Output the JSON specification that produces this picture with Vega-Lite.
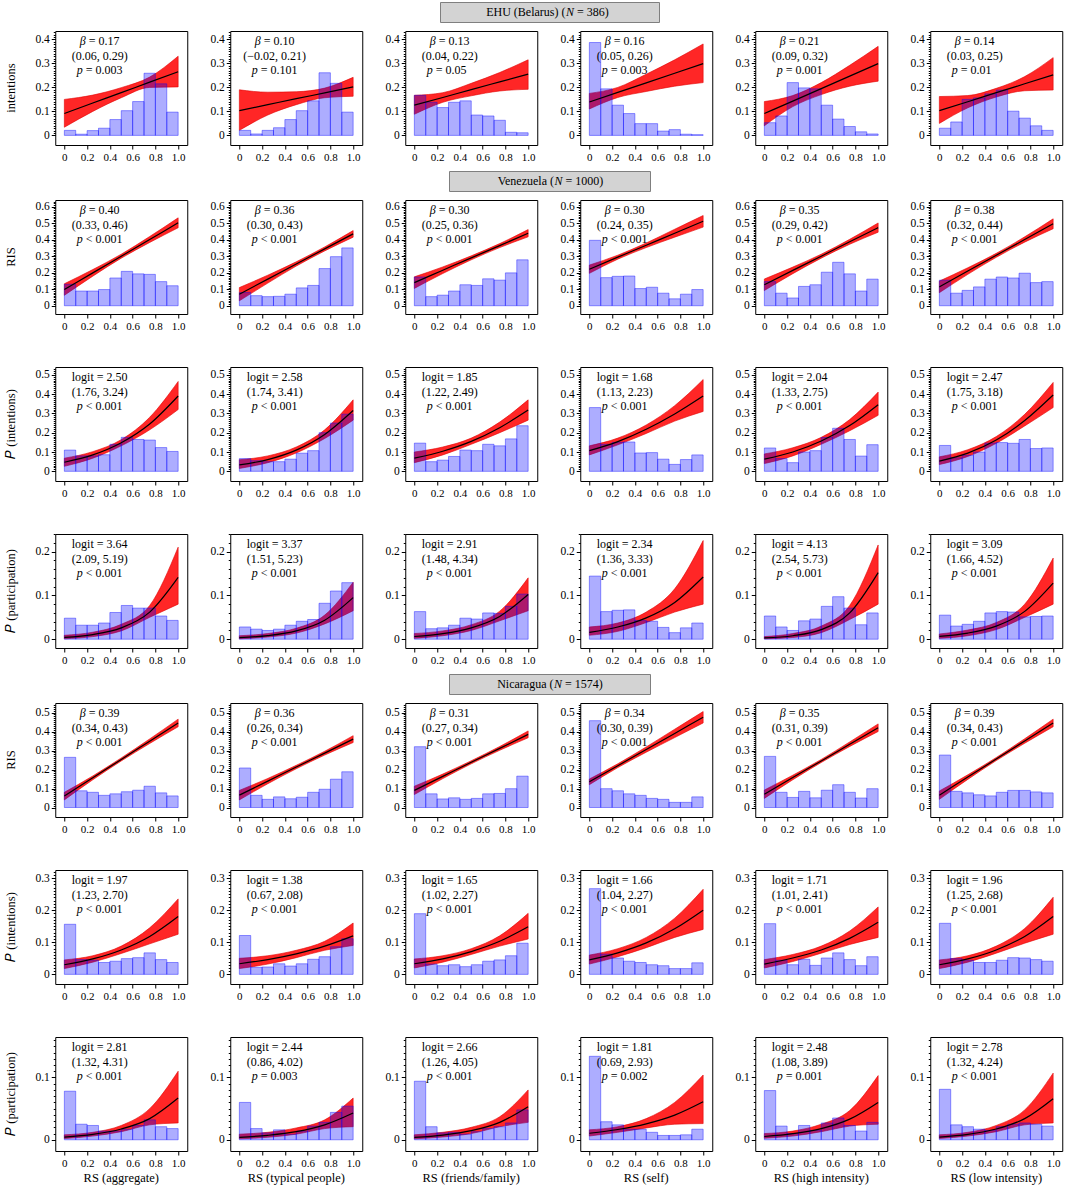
{
"$schema": "https://vega.github.io/schema/vega-lite/v6.json",
"background": "white",
"padding": {"left": 4, "top": 1, "right": 2, "bottom": 2},
"config": {
  "font": "Liberation Serif",
  "view": {"stroke": "black", "strokeWidth": 1},
  "axis": {"labelFont": "Liberation Serif", "labelFontSize": 11.5, "labelColor": "black", "tickColor": "black", "domain": false, "grid": false, "tickSize": 4, "labelPadding": 2, "labelOverlap": false},
  "axisX": {"labelOverlap": false, "labelFlush": false, "labelFontSize": 11},
  "header": {"labelFont": "Liberation Serif", "labelFontSize": 12.5, "labelColor": "black"},
  "text": {"font": "Liberation Serif", "fontSize": 12, "color": "black"}
},
"spacing": 7,
"center": true,
"vconcat": [
{"hconcat": [
 {"width": 219, "height": 20, "view": {"fill": "#d3d3d3", "stroke": "#7f7f7f"},
  "data": {"values": [{"a": "EHU (Belarus) (", "n": "N", "b": "= 386)"}]},
  "layer": [
   {"mark": {"type": "text", "align": "right", "dx": 16}, "encoding": {"text": {"field": "a"}}},
   {"mark": {"type": "text", "align": "left", "dx": 16.5, "fontStyle": "italic"}, "encoding": {"text": {"field": "n"}}},
   {"mark": {"type": "text", "align": "left", "dx": 27.5}, "encoding": {"text": {"field": "b"}}}
  ]},
 {"width": 1, "height": 20, "view": {"stroke": null}, "data": {"values": [{"t": ""}]}, "mark": {"type": "text"}, "encoding": {"text": {"field": "t"}}}
 ], "spacing": 17},
{
 "data": {"values": [
  {"c":"RS (aggregate)","ylab":"intentions","t1i":"β","t1":"= 0.17","t2":"(0.06, 0.29)","t3i":"p","t3":"= 0.003","h":[0.021,0.005,0.02,0.03,0.066,0.103,0.141,0.259,0.215,0.097],"hx0":[0,0.1,0.2,0.3,0.4,0.5,0.6,0.7,0.8,0.9],"hx1":[0.1,0.2,0.3,0.4,0.5,0.6,0.7,0.8,0.9,1],"bx":[0,0.25,0.5,0.75,1],"lo":[0.034,0.1,0.157,0.2,0.202],"mid":[0.091,0.135,0.178,0.222,0.265],"hi":[0.15,0.168,0.199,0.243,0.33]},
  {"c":"RS (typical people)","ylab":"intentions","t1i":"β","t1":"= 0.10","t2":"(−0.02, 0.21)","t3i":"p","t3":"= 0.101","h":[0.021,0.006,0.021,0.032,0.066,0.103,0.144,0.261,0.217,0.097],"hx0":[0,0.1,0.2,0.3,0.4,0.5,0.6,0.7,0.8,0.9],"hx1":[0.1,0.2,0.3,0.4,0.5,0.6,0.7,0.8,0.9,1],"bx":[0,0.25,0.5,0.75,1],"lo":[0.021,0.085,0.128,0.157,0.163],"mid":[0.103,0.128,0.153,0.177,0.202],"hi":[0.19,0.18,0.182,0.197,0.242]},
  {"c":"RS (friends/family)","ylab":"intentions","t1i":"β","t1":"= 0.13","t2":"(0.04, 0.22)","t3i":"p","t3":"= 0.05","h":[0.167,0.138,0.116,0.138,0.144,0.085,0.081,0.063,0.013,0.011],"hx0":[0,0.1,0.2,0.3,0.4,0.5,0.6,0.7,0.8,0.9],"hx1":[0.1,0.2,0.3,0.4,0.5,0.6,0.7,0.8,0.9,1],"bx":[0,0.25,0.5,0.75,1],"lo":[0.088,0.138,0.165,0.185,0.192],"mid":[0.126,0.158,0.191,0.223,0.255],"hi":[0.167,0.178,0.217,0.262,0.315]},
  {"c":"RS (self)","ylab":"intentions","t1i":"β","t1":"= 0.16","t2":"(0.05, 0.26)","t3i":"p","t3":"= 0.003","h":[0.387,0.194,0.126,0.091,0.049,0.049,0.018,0.024,0.005,0.003],"hx0":[0,0.1,0.2,0.3,0.4,0.5,0.6,0.7,0.8,0.9],"hx1":[0.1,0.2,0.3,0.4,0.5,0.6,0.7,0.8,0.9,1],"bx":[0,0.25,0.5,0.75,1],"lo":[0.11,0.158,0.183,0.205,0.22],"mid":[0.139,0.179,0.219,0.259,0.299],"hi":[0.175,0.2,0.255,0.315,0.381]},
  {"c":"RS (high intensity)","ylab":"intentions","t1i":"β","t1":"= 0.21","t2":"(0.09, 0.32)","t3i":"p","t3":"= 0.001","h":[0.053,0.081,0.22,0.198,0.194,0.126,0.068,0.037,0.015,0.006],"hx0":[0,0.1,0.2,0.3,0.4,0.5,0.6,0.7,0.8,0.9],"hx1":[0.1,0.2,0.3,0.4,0.5,0.6,0.7,0.8,0.9,1],"bx":[0,0.25,0.5,0.75,1],"lo":[0.04,0.12,0.17,0.205,0.226],"mid":[0.091,0.143,0.195,0.247,0.299],"hi":[0.141,0.166,0.22,0.292,0.371]},
  {"c":"RS (low intensity)","ylab":"intentions","t1i":"β","t1":"= 0.14","t2":"(0.03, 0.25)","t3i":"p","t3":"= 0.01","h":[0.03,0.056,0.15,0.156,0.173,0.189,0.101,0.072,0.04,0.021],"hx0":[0,0.1,0.2,0.3,0.4,0.5,0.6,0.7,0.8,0.9],"hx1":[0.1,0.2,0.3,0.4,0.5,0.6,0.7,0.8,0.9,1],"bx":[0,0.25,0.5,0.75,1],"lo":[0.05,0.115,0.16,0.186,0.189],"mid":[0.103,0.14,0.178,0.215,0.252],"hi":[0.162,0.166,0.196,0.245,0.324]}
 ]},
 "transform": [{"flatten": ["h","hx0","hx1","bx","lo","mid","hi"]}],
 "facet": {
  "column": {"field": "c", "type": "nominal", "sort": ["RS (aggregate)","RS (typical people)","RS (friends/family)","RS (self)","RS (high intensity)","RS (low intensity)"], "header": null},
  "row": {"field": "ylab", "type": "nominal", "header": {"title": null, "labelAngle": -90, "labelOrient": "left", "labelPadding": 11}}
 },
 "spacing": {"row": 0, "column": 21},
 "resolve": {"axis": {"y": "independent", "x": "independent"}},
 "spec": {
  "width": 132, "height": 114,
  "resolve": {"axis": {"y": "independent", "x": "independent"}},
  "layer": [
   {"mark": {"type": "area", "color": "#ff0000", "fillOpacity": 0.85, "stroke": "#e00000", "strokeWidth": 0.6, "interpolate": "monotone"},
    "encoding": {
     "x": {"field": "bx", "type": "quantitative", "title": null, "scale": {"domain": [-0.08, 1.08], "nice": false, "zero": false}, "axis": {"orient": "bottom", "values": [0,0.4,0.8], "labelExpr": "datum.value == 0 ? '0' : format(datum.value, '.1f')", "title": null}},
     "y": {"field": "lo", "type": "quantitative", "title": null, "scale": {"domain": [-0.04, 0.435], "nice": false, "zero": false}, "axis": {"orient": "left", "values": [0,0.1,0.2,0.3,0.4], "labelExpr": "datum.value == 0 ? '0' : format(datum.value, '.1f')", "title": null}},
     "y2": {"field": "hi"}
    }},
   {"mark": {"type": "rect", "fill": "#0000ff", "fillOpacity": 0.32, "stroke": "#0000ff", "strokeOpacity": 0.4, "strokeWidth": 1},
    "encoding": {"x": {"field": "hx0", "type": "quantitative", "title": null, "axis": null}, "x2": {"field": "hx1"}, "y": {"field": "h", "type": "quantitative", "title": null, "axis": null}, "y2": {"datum": 0}}},
   {"mark": {"type": "line", "color": "black", "strokeWidth": 1.2, "interpolate": "monotone"},
    "encoding": {"x": {"field": "bx", "type": "quantitative", "title": null, "axis": {"orient": "bottom", "values": [0.2,0.6,1], "labelExpr": "format(datum.value, '.1f')", "title": null}}, "y": {"field": "mid", "type": "quantitative", "title": null, "axis": {"orient": "left", "labels": false, "tickSize": 2, "title": null, "values": [0,0.01,0.02,0.03,0.04,0.05,0.06,0.07,0.08,0.09,0.1,0.11,0.12,0.13,0.14,0.15,0.16,0.17,0.18,0.19,0.2,0.21,0.22,0.23,0.24,0.25,0.26,0.27,0.28,0.29,0.3,0.31,0.32,0.33,0.34,0.35,0.36,0.37,0.38,0.39,0.4,0.41,0.42,0.43]}}}},
   {"mark": {"type": "text", "align": "right", "baseline": "middle", "fontStyle": "italic", "dx": -14, "dy": 10}, "encoding": {"x": {"datum": 0.31, "axis": null}, "y": {"datum": 0.435, "axis": null}, "text": {"condition": {"test": "datum.hx0 === 0", "field": "t1i"}, "value": ""}}},
   {"mark": {"type": "text", "align": "left", "baseline": "middle", "dx": -11, "dy": 10}, "encoding": {"x": {"datum": 0.31, "axis": null}, "y": {"datum": 0.435, "axis": null}, "text": {"condition": {"test": "datum.hx0 === 0", "field": "t1"}, "value": ""}}},
   {"mark": {"type": "text", "align": "center", "baseline": "middle", "dy": 24.5}, "encoding": {"x": {"datum": 0.31, "axis": null}, "y": {"datum": 0.435, "axis": null}, "text": {"condition": {"test": "datum.hx0 === 0", "field": "t2"}, "value": ""}}},
   {"mark": {"type": "text", "align": "right", "baseline": "middle", "fontStyle": "italic", "dx": -17, "dy": 39}, "encoding": {"x": {"datum": 0.31, "axis": null}, "y": {"datum": 0.435, "axis": null}, "text": {"condition": {"test": "datum.hx0 === 0", "field": "t3i"}, "value": ""}}},
   {"mark": {"type": "text", "align": "left", "baseline": "middle", "dx": -14, "dy": 39}, "encoding": {"x": {"datum": 0.31, "axis": null}, "y": {"datum": 0.435, "axis": null}, "text": {"condition": {"test": "datum.hx0 === 0", "field": "t3"}, "value": ""}}}
  ]
 }
},
{"hconcat": [
 {"width": 201, "height": 20, "view": {"fill": "#d3d3d3", "stroke": "#7f7f7f"},
  "data": {"values": [{"a": "Venezuela (", "n": "N", "b": "= 1000)"}]},
  "layer": [
   {"mark": {"type": "text", "align": "right", "dx": 4.5}, "encoding": {"text": {"field": "a"}}},
   {"mark": {"type": "text", "align": "left", "dx": 5, "fontStyle": "italic"}, "encoding": {"text": {"field": "n"}}},
   {"mark": {"type": "text", "align": "left", "dx": 16}, "encoding": {"text": {"field": "b"}}}
  ]},
 {"width": 1, "height": 20, "view": {"stroke": null}, "data": {"values": [{"t": ""}]}, "mark": {"type": "text"}, "encoding": {"text": {"field": "t"}}}
 ], "spacing": 17},
{
 "data": {"values": [
  {"c":"RS (aggregate)","ylab":"RIS","t1i":"β","t1":"= 0.40","t2":"(0.33, 0.46)","t3i":"p","t3":"< 0.001","h":[0.13,0.089,0.089,0.098,0.168,0.208,0.193,0.19,0.146,0.121],"hx0":[0,0.1,0.2,0.3,0.4,0.5,0.6,0.7,0.8,0.9],"hx1":[0.1,0.2,0.3,0.4,0.5,0.6,0.7,0.8,0.9,1],"bx":[0,0.25,0.5,0.75,1],"lo":[0.063,0.179,0.288,0.383,0.472],"mid":[0.098,0.199,0.3,0.401,0.502],"hi":[0.133,0.219,0.312,0.419,0.532]},
  {"c":"RS (typical people)","ylab":"RIS","t1i":"β","t1":"= 0.36","t2":"(0.30, 0.43)","t3i":"p","t3":"< 0.001","h":[0.08,0.061,0.055,0.057,0.07,0.108,0.123,0.225,0.297,0.35],"hx0":[0,0.1,0.2,0.3,0.4,0.5,0.6,0.7,0.8,0.9],"hx1":[0.1,0.2,0.3,0.4,0.5,0.6,0.7,0.8,0.9,1],"bx":[0,0.25,0.5,0.75,1],"lo":[0.03,0.137,0.24,0.332,0.415],"mid":[0.07,0.161,0.253,0.344,0.435],"hi":[0.11,0.185,0.266,0.356,0.455]},
  {"c":"RS (friends/family)","ylab":"RIS","t1i":"β","t1":"= 0.30","t2":"(0.25, 0.36)","t3i":"p","t3":"< 0.001","h":[0.174,0.055,0.064,0.089,0.127,0.123,0.163,0.155,0.199,0.278],"hx0":[0,0.1,0.2,0.3,0.4,0.5,0.6,0.7,0.8,0.9],"hx1":[0.1,0.2,0.3,0.4,0.5,0.6,0.7,0.8,0.9,1],"bx":[0,0.25,0.5,0.75,1],"lo":[0.105,0.195,0.278,0.352,0.417],"mid":[0.14,0.215,0.29,0.364,0.439],"hi":[0.175,0.235,0.302,0.376,0.461]},
  {"c":"RS (self)","ylab":"RIS","t1i":"β","t1":"= 0.30","t2":"(0.24, 0.35)","t3i":"p","t3":"< 0.001","h":[0.396,0.17,0.178,0.18,0.104,0.112,0.076,0.042,0.07,0.098],"hx0":[0,0.1,0.2,0.3,0.4,0.5,0.6,0.7,0.8,0.9],"hx1":[0.1,0.2,0.3,0.4,0.5,0.6,0.7,0.8,0.9,1],"bx":[0,0.25,0.5,0.75,1],"lo":[0.196,0.282,0.352,0.415,0.476],"mid":[0.221,0.294,0.366,0.439,0.511],"hi":[0.246,0.306,0.38,0.463,0.546]},
  {"c":"RS (high intensity)","ylab":"RIS","t1i":"β","t1":"= 0.35","t2":"(0.29, 0.42)","t3i":"p","t3":"< 0.001","h":[0.146,0.076,0.047,0.117,0.127,0.203,0.263,0.193,0.089,0.161],"hx0":[0,0.1,0.2,0.3,0.4,0.5,0.6,0.7,0.8,0.9],"hx1":[0.1,0.2,0.3,0.4,0.5,0.6,0.7,0.8,0.9,1],"bx":[0,0.25,0.5,0.75,1],"lo":[0.092,0.194,0.288,0.372,0.445],"mid":[0.127,0.214,0.3,0.387,0.473],"hi":[0.162,0.234,0.312,0.402,0.501]},
  {"c":"RS (low intensity)","ylab":"RIS","t1i":"β","t1":"= 0.38","t2":"(0.32, 0.44)","t3i":"p","t3":"< 0.001","h":[0.155,0.076,0.093,0.114,0.161,0.174,0.168,0.197,0.14,0.146],"hx0":[0,0.1,0.2,0.3,0.4,0.5,0.6,0.7,0.8,0.9],"hx1":[0.1,0.2,0.3,0.4,0.5,0.6,0.7,0.8,0.9,1],"bx":[0,0.25,0.5,0.75,1],"lo":[0.079,0.19,0.293,0.385,0.466],"mid":[0.114,0.21,0.305,0.401,0.496],"hi":[0.149,0.23,0.317,0.417,0.526]}
 ]},
 "transform": [{"flatten": ["h","hx0","hx1","bx","lo","mid","hi"]}],
 "facet": {
  "column": {"field": "c", "type": "nominal", "sort": ["RS (aggregate)","RS (typical people)","RS (friends/family)","RS (self)","RS (high intensity)","RS (low intensity)"], "header": null},
  "row": {"field": "ylab", "type": "nominal", "header": {"title": null, "labelAngle": -90, "labelOrient": "left", "labelPadding": 11}}
 },
 "spacing": {"row": 0, "column": 21},
 "resolve": {"axis": {"y": "independent", "x": "independent"}},
 "spec": {
  "width": 132, "height": 114,
  "resolve": {"axis": {"y": "independent", "x": "independent"}},
  "layer": [
   {"mark": {"type": "area", "color": "#ff0000", "fillOpacity": 0.85, "stroke": "#e00000", "strokeWidth": 0.6, "interpolate": "monotone"},
    "encoding": {
     "x": {"field": "bx", "type": "quantitative", "title": null, "scale": {"domain": [-0.08, 1.08], "nice": false, "zero": false}, "axis": {"orient": "bottom", "values": [0,0.4,0.8], "labelExpr": "datum.value == 0 ? '0' : format(datum.value, '.1f')", "title": null}},
     "y": {"field": "lo", "type": "quantitative", "title": null, "scale": {"domain": [-0.05, 0.64], "nice": false, "zero": false}, "axis": {"orient": "left", "values": [0,0.1,0.2,0.3,0.4,0.5,0.6], "labelExpr": "datum.value == 0 ? '0' : format(datum.value, '.1f')", "title": null}},
     "y2": {"field": "hi"}
    }},
   {"mark": {"type": "rect", "fill": "#0000ff", "fillOpacity": 0.32, "stroke": "#0000ff", "strokeOpacity": 0.4, "strokeWidth": 1},
    "encoding": {"x": {"field": "hx0", "type": "quantitative", "title": null, "axis": null}, "x2": {"field": "hx1"}, "y": {"field": "h", "type": "quantitative", "title": null, "axis": null}, "y2": {"datum": 0}}},
   {"mark": {"type": "line", "color": "black", "strokeWidth": 1.2, "interpolate": "monotone"},
    "encoding": {"x": {"field": "bx", "type": "quantitative", "title": null, "axis": {"orient": "bottom", "values": [0.2,0.6,1], "labelExpr": "format(datum.value, '.1f')", "title": null}}, "y": {"field": "mid", "type": "quantitative", "title": null, "axis": {"orient": "left", "labels": false, "tickSize": 2, "title": null, "values": [0,0.01,0.02,0.03,0.04,0.05,0.06,0.07,0.08,0.09,0.1,0.11,0.12,0.13,0.14,0.15,0.16,0.17,0.18,0.19,0.2,0.21,0.22,0.23,0.24,0.25,0.26,0.27,0.28,0.29,0.3,0.31,0.32,0.33,0.34,0.35,0.36,0.37,0.38,0.39,0.4,0.41,0.42,0.43,0.44,0.45,0.46,0.47,0.48,0.49,0.5,0.51,0.52,0.53,0.54,0.55,0.56,0.57,0.58,0.59,0.6,0.61,0.62,0.63]}}}},
   {"mark": {"type": "text", "align": "right", "baseline": "middle", "fontStyle": "italic", "dx": -14, "dy": 10}, "encoding": {"x": {"datum": 0.31, "axis": null}, "y": {"datum": 0.64, "axis": null}, "text": {"condition": {"test": "datum.hx0 === 0", "field": "t1i"}, "value": ""}}},
   {"mark": {"type": "text", "align": "left", "baseline": "middle", "dx": -11, "dy": 10}, "encoding": {"x": {"datum": 0.31, "axis": null}, "y": {"datum": 0.64, "axis": null}, "text": {"condition": {"test": "datum.hx0 === 0", "field": "t1"}, "value": ""}}},
   {"mark": {"type": "text", "align": "center", "baseline": "middle", "dy": 24.5}, "encoding": {"x": {"datum": 0.31, "axis": null}, "y": {"datum": 0.64, "axis": null}, "text": {"condition": {"test": "datum.hx0 === 0", "field": "t2"}, "value": ""}}},
   {"mark": {"type": "text", "align": "right", "baseline": "middle", "fontStyle": "italic", "dx": -17, "dy": 39}, "encoding": {"x": {"datum": 0.31, "axis": null}, "y": {"datum": 0.64, "axis": null}, "text": {"condition": {"test": "datum.hx0 === 0", "field": "t3i"}, "value": ""}}},
   {"mark": {"type": "text", "align": "left", "baseline": "middle", "dx": -14, "dy": 39}, "encoding": {"x": {"datum": 0.31, "axis": null}, "y": {"datum": 0.64, "axis": null}, "text": {"condition": {"test": "datum.hx0 === 0", "field": "t3"}, "value": ""}}}
  ]
 }
},
{"width": 10, "height": 20, "view": {"stroke": null}, "data": {"values": [{"t": ""}]}, "mark": {"type": "text"}, "encoding": {"text": {"field": "t"}}},
{
 "data": {"values": [
  {"c":"RS (aggregate)","ylab":"𝑃 (intentions)","t1":"logit = 2.50","t2":"(1.76, 3.24)","t3i":"p","t3":"< 0.001","h":[0.11,0.08,0.08,0.086,0.14,0.176,0.165,0.162,0.123,0.103],"hx0":[0,0.1,0.2,0.3,0.4,0.5,0.6,0.7,0.8,0.9],"hx1":[0.1,0.2,0.3,0.4,0.5,0.6,0.7,0.8,0.9,1],"bx":[0,0.25,0.5,0.75,1],"lo":[0.026,0.068,0.132,0.215,0.32],"mid":[0.047,0.085,0.148,0.245,0.39],"hi":[0.068,0.102,0.164,0.28,0.465]},
  {"c":"RS (typical people)","ylab":"𝑃 (intentions)","t1":"logit = 2.58","t2":"(1.74, 3.41)","t3i":"p","t3":"< 0.001","h":[0.066,0.055,0.05,0.05,0.063,0.094,0.107,0.2,0.25,0.296],"hx0":[0,0.1,0.2,0.3,0.4,0.5,0.6,0.7,0.8,0.9],"hx1":[0.1,0.2,0.3,0.4,0.5,0.6,0.7,0.8,0.9,1],"bx":[0,0.25,0.5,0.75,1],"lo":[0.015,0.045,0.095,0.17,0.265],"mid":[0.033,0.061,0.11,0.191,0.315],"hi":[0.06,0.08,0.126,0.215,0.37]},
  {"c":"RS (friends/family)","ylab":"𝑃 (intentions)","t1":"logit = 1.85","t2":"(1.22, 2.49)","t3i":"p","t3":"< 0.001","h":[0.146,0.05,0.058,0.077,0.11,0.107,0.14,0.132,0.168,0.236],"hx0":[0,0.1,0.2,0.3,0.4,0.5,0.6,0.7,0.8,0.9],"hx1":[0.1,0.2,0.3,0.4,0.5,0.6,0.7,0.8,0.9,1],"bx":[0,0.25,0.5,0.75,1],"lo":[0.045,0.085,0.14,0.2,0.265],"mid":[0.068,0.104,0.155,0.226,0.317],"hi":[0.1,0.126,0.172,0.255,0.37]},
  {"c":"RS (self)","ylab":"𝑃 (intentions)","t1":"logit = 1.68","t2":"(1.13, 2.23)","t3i":"p","t3":"< 0.001","h":[0.33,0.14,0.15,0.152,0.095,0.097,0.063,0.036,0.061,0.085],"hx0":[0,0.1,0.2,0.3,0.4,0.5,0.6,0.7,0.8,0.9],"hx1":[0.1,0.2,0.3,0.4,0.5,0.6,0.7,0.8,0.9,1],"bx":[0,0.25,0.5,0.75,1],"lo":[0.085,0.137,0.196,0.26,0.31],"mid":[0.107,0.154,0.218,0.297,0.39],"hi":[0.132,0.172,0.24,0.34,0.475]},
  {"c":"RS (high intensity)","ylab":"𝑃 (intentions)","t1":"logit = 2.04","t2":"(1.33, 2.75)","t3i":"p","t3":"< 0.001","h":[0.121,0.066,0.045,0.1,0.107,0.175,0.223,0.165,0.079,0.138],"hx0":[0,0.1,0.2,0.3,0.4,0.5,0.6,0.7,0.8,0.9],"hx1":[0.1,0.2,0.3,0.4,0.5,0.6,0.7,0.8,0.9,1],"bx":[0,0.25,0.5,0.75,1],"lo":[0.04,0.08,0.14,0.21,0.29],"mid":[0.063,0.1,0.157,0.237,0.345],"hi":[0.09,0.122,0.176,0.268,0.41]},
  {"c":"RS (low intensity)","ylab":"𝑃 (intentions)","t1":"logit = 2.47","t2":"(1.75, 3.18)","t3i":"p","t3":"< 0.001","h":[0.134,0.07,0.083,0.1,0.146,0.149,0.145,0.165,0.118,0.121],"hx0":[0,0.1,0.2,0.3,0.4,0.5,0.6,0.7,0.8,0.9],"hx1":[0.1,0.2,0.3,0.4,0.5,0.6,0.7,0.8,0.9,1],"bx":[0,0.25,0.5,0.75,1],"lo":[0.035,0.077,0.145,0.235,0.33],"mid":[0.053,0.094,0.162,0.263,0.395],"hi":[0.075,0.112,0.18,0.295,0.46]}
 ]},
 "transform": [{"flatten": ["h","hx0","hx1","bx","lo","mid","hi"]}],
 "facet": {
  "column": {"field": "c", "type": "nominal", "sort": ["RS (aggregate)","RS (typical people)","RS (friends/family)","RS (self)","RS (high intensity)","RS (low intensity)"], "header": null},
  "row": {"field": "ylab", "type": "nominal", "header": {"title": null, "labelAngle": -90, "labelOrient": "left", "labelPadding": 11}}
 },
 "spacing": {"row": 0, "column": 21},
 "resolve": {"axis": {"y": "independent", "x": "independent"}},
 "spec": {
  "width": 132, "height": 114,
  "resolve": {"axis": {"y": "independent", "x": "independent"}},
  "layer": [
   {"mark": {"type": "area", "color": "#ff0000", "fillOpacity": 0.85, "stroke": "#e00000", "strokeWidth": 0.6, "interpolate": "monotone"},
    "encoding": {
     "x": {"field": "bx", "type": "quantitative", "title": null, "scale": {"domain": [-0.08, 1.08], "nice": false, "zero": false}, "axis": {"orient": "bottom", "values": [0,0.4,0.8], "labelExpr": "datum.value == 0 ? '0' : format(datum.value, '.1f')", "title": null}},
     "y": {"field": "lo", "type": "quantitative", "title": null, "scale": {"domain": [-0.05, 0.54], "nice": false, "zero": false}, "axis": {"orient": "left", "values": [0,0.1,0.2,0.3,0.4,0.5], "labelExpr": "datum.value == 0 ? '0' : format(datum.value, '.1f')", "title": null}},
     "y2": {"field": "hi"}
    }},
   {"mark": {"type": "rect", "fill": "#0000ff", "fillOpacity": 0.32, "stroke": "#0000ff", "strokeOpacity": 0.4, "strokeWidth": 1},
    "encoding": {"x": {"field": "hx0", "type": "quantitative", "title": null, "axis": null}, "x2": {"field": "hx1"}, "y": {"field": "h", "type": "quantitative", "title": null, "axis": null}, "y2": {"datum": 0}}},
   {"mark": {"type": "line", "color": "black", "strokeWidth": 1.2, "interpolate": "monotone"},
    "encoding": {"x": {"field": "bx", "type": "quantitative", "title": null, "axis": {"orient": "bottom", "values": [0.2,0.6,1], "labelExpr": "format(datum.value, '.1f')", "title": null}}, "y": {"field": "mid", "type": "quantitative", "title": null, "axis": {"orient": "left", "labels": false, "tickSize": 2, "title": null, "values": [0,0.01,0.02,0.03,0.04,0.05,0.06,0.07,0.08,0.09,0.1,0.11,0.12,0.13,0.14,0.15,0.16,0.17,0.18,0.19,0.2,0.21,0.22,0.23,0.24,0.25,0.26,0.27,0.28,0.29,0.3,0.31,0.32,0.33,0.34,0.35,0.36,0.37,0.38,0.39,0.4,0.41,0.42,0.43,0.44,0.45,0.46,0.47,0.48,0.49,0.5,0.51,0.52,0.53]}}}},
   {"mark": {"type": "text", "align": "center", "baseline": "middle", "dy": 10}, "encoding": {"x": {"datum": 0.31, "axis": null}, "y": {"datum": 0.54, "axis": null}, "text": {"condition": {"test": "datum.hx0 === 0", "field": "t1"}, "value": ""}}},
   {"mark": {"type": "text", "align": "center", "baseline": "middle", "dy": 24.5}, "encoding": {"x": {"datum": 0.31, "axis": null}, "y": {"datum": 0.54, "axis": null}, "text": {"condition": {"test": "datum.hx0 === 0", "field": "t2"}, "value": ""}}},
   {"mark": {"type": "text", "align": "right", "baseline": "middle", "fontStyle": "italic", "dx": -17, "dy": 39}, "encoding": {"x": {"datum": 0.31, "axis": null}, "y": {"datum": 0.54, "axis": null}, "text": {"condition": {"test": "datum.hx0 === 0", "field": "t3i"}, "value": ""}}},
   {"mark": {"type": "text", "align": "left", "baseline": "middle", "dx": -14, "dy": 39}, "encoding": {"x": {"datum": 0.31, "axis": null}, "y": {"datum": 0.54, "axis": null}, "text": {"condition": {"test": "datum.hx0 === 0", "field": "t3"}, "value": ""}}}
  ]
 }
},
{"width": 10, "height": 20, "view": {"stroke": null}, "data": {"values": [{"t": ""}]}, "mark": {"type": "text"}, "encoding": {"text": {"field": "t"}}},
{
 "data": {"values": [
  {"c":"RS (aggregate)","ylab":"𝑃 (participation)","t1":"logit = 3.64","t2":"(2.09, 5.19)","t3i":"p","t3":"< 0.001","h":[0.048,0.032,0.032,0.037,0.061,0.077,0.071,0.071,0.053,0.043],"hx0":[0,0.1,0.2,0.3,0.4,0.5,0.6,0.7,0.8,0.9],"hx1":[0.1,0.2,0.3,0.4,0.5,0.6,0.7,0.8,0.9,1],"bx":[0,0.25,0.5,0.75,1],"lo":[0.001,0.006,0.019,0.05,0.08],"mid":[0.0043,0.0106,0.0258,0.0618,0.141],"hi":[0.009,0.016,0.034,0.077,0.21]},
  {"c":"RS (typical people)","ylab":"𝑃 (participation)","t1":"logit = 3.37","t2":"(1.51, 5.23)","t3i":"p","t3":"< 0.001","h":[0.028,0.023,0.02,0.023,0.032,0.041,0.045,0.082,0.11,0.129],"hx0":[0,0.1,0.2,0.3,0.4,0.5,0.6,0.7,0.8,0.9],"hx1":[0.1,0.2,0.3,0.4,0.5,0.6,0.7,0.8,0.9,1],"bx":[0,0.25,0.5,0.75,1],"lo":[0.001,0.005,0.014,0.035,0.065],"mid":[0.0036,0.0083,0.019,0.0435,0.095],"hi":[0.008,0.013,0.025,0.055,0.13]},
  {"c":"RS (friends/family)","ylab":"𝑃 (participation)","t1":"logit = 2.91","t2":"(1.48, 4.34)","t3i":"p","t3":"< 0.001","h":[0.063,0.024,0.026,0.032,0.048,0.046,0.06,0.059,0.075,0.103],"hx0":[0,0.1,0.2,0.3,0.4,0.5,0.6,0.7,0.8,0.9],"hx1":[0.1,0.2,0.3,0.4,0.5,0.6,0.7,0.8,0.9,1],"bx":[0,0.25,0.5,0.75,1],"lo":[0.002,0.008,0.02,0.042,0.065],"mid":[0.0062,0.0127,0.026,0.052,0.102],"hi":[0.013,0.019,0.033,0.064,0.14]},
  {"c":"RS (self)","ylab":"𝑃 (participation)","t1":"logit = 2.34","t2":"(1.36, 3.33)","t3i":"p","t3":"< 0.001","h":[0.144,0.063,0.066,0.067,0.043,0.041,0.027,0.015,0.026,0.037],"hx0":[0,0.1,0.2,0.3,0.4,0.5,0.6,0.7,0.8,0.9],"hx1":[0.1,0.2,0.3,0.4,0.5,0.6,0.7,0.8,0.9,1],"bx":[0,0.25,0.5,0.75,1],"lo":[0.009,0.018,0.038,0.062,0.08],"mid":[0.0157,0.0278,0.0488,0.084,0.142],"hi":[0.028,0.037,0.062,0.115,0.225]},
  {"c":"RS (high intensity)","ylab":"𝑃 (participation)","t1":"logit = 4.13","t2":"(2.54, 5.73)","t3i":"p","t3":"< 0.001","h":[0.053,0.028,0.02,0.042,0.046,0.075,0.097,0.071,0.033,0.06],"hx0":[0,0.1,0.2,0.3,0.4,0.5,0.6,0.7,0.8,0.9],"hx1":[0.1,0.2,0.3,0.4,0.5,0.6,0.7,0.8,0.9,1],"bx":[0,0.25,0.5,0.75,1],"lo":[0.001,0.004,0.015,0.045,0.08],"mid":[0.0029,0.008,0.022,0.06,0.152],"hi":[0.006,0.013,0.03,0.077,0.215]},
  {"c":"RS (low intensity)","ylab":"𝑃 (participation)","t1":"logit = 3.09","t2":"(1.66, 4.52)","t3i":"p","t3":"< 0.001","h":[0.055,0.03,0.034,0.041,0.06,0.063,0.062,0.051,0.052,0.053],"hx0":[0,0.1,0.2,0.3,0.4,0.5,0.6,0.7,0.8,0.9],"hx1":[0.1,0.2,0.3,0.4,0.5,0.6,0.7,0.8,0.9,1],"bx":[0,0.25,0.5,0.75,1],"lo":[0.002,0.008,0.022,0.05,0.08],"mid":[0.0066,0.014,0.03,0.0635,0.128],"hi":[0.012,0.021,0.038,0.08,0.185]}
 ]},
 "transform": [{"flatten": ["h","hx0","hx1","bx","lo","mid","hi"]}],
 "facet": {
  "column": {"field": "c", "type": "nominal", "sort": ["RS (aggregate)","RS (typical people)","RS (friends/family)","RS (self)","RS (high intensity)","RS (low intensity)"], "header": null},
  "row": {"field": "ylab", "type": "nominal", "header": {"title": null, "labelAngle": -90, "labelOrient": "left", "labelPadding": 11}}
 },
 "spacing": {"row": 0, "column": 21},
 "resolve": {"axis": {"y": "independent", "x": "independent"}},
 "spec": {
  "width": 132, "height": 114,
  "resolve": {"axis": {"y": "independent", "x": "independent"}},
  "layer": [
   {"mark": {"type": "area", "color": "#ff0000", "fillOpacity": 0.85, "stroke": "#e00000", "strokeWidth": 0.6, "interpolate": "monotone"},
    "encoding": {
     "x": {"field": "bx", "type": "quantitative", "title": null, "scale": {"domain": [-0.08, 1.08], "nice": false, "zero": false}, "axis": {"orient": "bottom", "values": [0,0.4,0.8], "labelExpr": "datum.value == 0 ? '0' : format(datum.value, '.1f')", "title": null}},
     "y": {"field": "lo", "type": "quantitative", "title": null, "scale": {"domain": [-0.02, 0.24], "nice": false, "zero": false}, "axis": {"orient": "left", "values": [0,0.1,0.2], "labelExpr": "datum.value == 0 ? '0' : format(datum.value, '.1f')", "title": null}},
     "y2": {"field": "hi"}
    }},
   {"mark": {"type": "rect", "fill": "#0000ff", "fillOpacity": 0.32, "stroke": "#0000ff", "strokeOpacity": 0.4, "strokeWidth": 1},
    "encoding": {"x": {"field": "hx0", "type": "quantitative", "title": null, "axis": null}, "x2": {"field": "hx1"}, "y": {"field": "h", "type": "quantitative", "title": null, "axis": null}, "y2": {"datum": 0}}},
   {"mark": {"type": "line", "color": "black", "strokeWidth": 1.2, "interpolate": "monotone"},
    "encoding": {"x": {"field": "bx", "type": "quantitative", "title": null, "axis": {"orient": "bottom", "values": [0.2,0.6,1], "labelExpr": "format(datum.value, '.1f')", "title": null}}, "y": {"field": "mid", "type": "quantitative", "title": null, "axis": {"orient": "left", "labels": false, "tickSize": 2, "title": null, "values": [0,0.02,0.04,0.06,0.08,0.1,0.12,0.14,0.16,0.18,0.2,0.22,0.24]}}}},
   {"mark": {"type": "text", "align": "center", "baseline": "middle", "dy": 10}, "encoding": {"x": {"datum": 0.31, "axis": null}, "y": {"datum": 0.24, "axis": null}, "text": {"condition": {"test": "datum.hx0 === 0", "field": "t1"}, "value": ""}}},
   {"mark": {"type": "text", "align": "center", "baseline": "middle", "dy": 24.5}, "encoding": {"x": {"datum": 0.31, "axis": null}, "y": {"datum": 0.24, "axis": null}, "text": {"condition": {"test": "datum.hx0 === 0", "field": "t2"}, "value": ""}}},
   {"mark": {"type": "text", "align": "right", "baseline": "middle", "fontStyle": "italic", "dx": -17, "dy": 39}, "encoding": {"x": {"datum": 0.31, "axis": null}, "y": {"datum": 0.24, "axis": null}, "text": {"condition": {"test": "datum.hx0 === 0", "field": "t3i"}, "value": ""}}},
   {"mark": {"type": "text", "align": "left", "baseline": "middle", "dx": -14, "dy": 39}, "encoding": {"x": {"datum": 0.31, "axis": null}, "y": {"datum": 0.24, "axis": null}, "text": {"condition": {"test": "datum.hx0 === 0", "field": "t3"}, "value": ""}}}
  ]
 }
},
{"hconcat": [
 {"width": 201, "height": 20, "view": {"fill": "#d3d3d3", "stroke": "#7f7f7f"},
  "data": {"values": [{"a": "Nicaragua (", "n": "N", "b": "= 1574)"}]},
  "layer": [
   {"mark": {"type": "text", "align": "right", "dx": 4}, "encoding": {"text": {"field": "a"}}},
   {"mark": {"type": "text", "align": "left", "dx": 4.5, "fontStyle": "italic"}, "encoding": {"text": {"field": "n"}}},
   {"mark": {"type": "text", "align": "left", "dx": 15.5}, "encoding": {"text": {"field": "b"}}}
  ]},
 {"width": 1, "height": 20, "view": {"stroke": null}, "data": {"values": [{"t": ""}]}, "mark": {"type": "text"}, "encoding": {"text": {"field": "t"}}}
 ], "spacing": 17},
{
 "data": {"values": [
  {"c":"RS (aggregate)","ylab":"RIS","t1i":"β","t1":"= 0.39","t2":"(0.34, 0.43)","t3i":"p","t3":"< 0.001","h":[0.264,0.088,0.08,0.064,0.072,0.083,0.091,0.112,0.077,0.061],"hx0":[0,0.1,0.2,0.3,0.4,0.5,0.6,0.7,0.8,0.9],"hx1":[0.1,0.2,0.3,0.4,0.5,0.6,0.7,0.8,0.9,1],"bx":[0,0.25,0.5,0.75,1],"lo":[0.04,0.146,0.245,0.337,0.425],"mid":[0.06,0.156,0.253,0.349,0.445],"hi":[0.08,0.166,0.261,0.361,0.465]},
  {"c":"RS (typical people)","ylab":"RIS","t1i":"β","t1":"= 0.36","t2":"(0.26, 0.34)","t3i":"p","t3":"< 0.001","h":[0.208,0.064,0.043,0.056,0.046,0.054,0.08,0.096,0.149,0.188],"hx0":[0,0.1,0.2,0.3,0.4,0.5,0.6,0.7,0.8,0.9],"hx1":[0.1,0.2,0.3,0.4,0.5,0.6,0.7,0.8,0.9,1],"bx":[0,0.25,0.5,0.75,1],"lo":[0.04,0.125,0.204,0.276,0.342],"mid":[0.065,0.139,0.213,0.286,0.36],"hi":[0.09,0.153,0.222,0.296,0.378]},
  {"c":"RS (friends/family)","ylab":"RIS","t1i":"β","t1":"= 0.31","t2":"(0.27, 0.34)","t3i":"p","t3":"< 0.001","h":[0.32,0.072,0.045,0.051,0.043,0.048,0.072,0.074,0.099,0.165],"hx0":[0,0.1,0.2,0.3,0.4,0.5,0.6,0.7,0.8,0.9],"hx1":[0.1,0.2,0.3,0.4,0.5,0.6,0.7,0.8,0.9,1],"bx":[0,0.25,0.5,0.75,1],"lo":[0.068,0.152,0.23,0.301,0.367],"mid":[0.09,0.164,0.238,0.311,0.385],"hi":[0.112,0.176,0.246,0.321,0.403]},
  {"c":"RS (self)","ylab":"RIS","t1i":"β","t1":"= 0.34","t2":"(0.30, 0.39)","t3i":"p","t3":"< 0.001","h":[0.457,0.099,0.088,0.072,0.064,0.048,0.043,0.027,0.027,0.056],"hx0":[0,0.1,0.2,0.3,0.4,0.5,0.6,0.7,0.8,0.9],"hx1":[0.1,0.2,0.3,0.4,0.5,0.6,0.7,0.8,0.9,1],"bx":[0,0.25,0.5,0.75,1],"lo":[0.12,0.21,0.291,0.368,0.445],"mid":[0.135,0.22,0.305,0.39,0.475],"hi":[0.15,0.23,0.319,0.412,0.505]},
  {"c":"RS (high intensity)","ylab":"RIS","t1i":"β","t1":"= 0.35","t2":"(0.31, 0.39)","t3i":"p","t3":"< 0.001","h":[0.269,0.08,0.053,0.085,0.051,0.091,0.12,0.08,0.05,0.099],"hx0":[0,0.1,0.2,0.3,0.4,0.5,0.6,0.7,0.8,0.9],"hx1":[0.1,0.2,0.3,0.4,0.5,0.6,0.7,0.8,0.9,1],"bx":[0,0.25,0.5,0.75,1],"lo":[0.048,0.146,0.237,0.321,0.4],"mid":[0.07,0.158,0.245,0.333,0.42],"hi":[0.092,0.17,0.253,0.345,0.44]},
  {"c":"RS (low intensity)","ylab":"RIS","t1i":"β","t1":"= 0.39","t2":"(0.34, 0.43)","t3i":"p","t3":"< 0.001","h":[0.276,0.085,0.077,0.067,0.061,0.08,0.09,0.09,0.082,0.077],"hx0":[0,0.1,0.2,0.3,0.4,0.5,0.6,0.7,0.8,0.9],"hx1":[0.1,0.2,0.3,0.4,0.5,0.6,0.7,0.8,0.9,1],"bx":[0,0.25,0.5,0.75,1],"lo":[0.043,0.148,0.247,0.338,0.425],"mid":[0.065,0.16,0.255,0.35,0.445],"hi":[0.087,0.172,0.263,0.362,0.465]}
 ]},
 "transform": [{"flatten": ["h","hx0","hx1","bx","lo","mid","hi"]}],
 "facet": {
  "column": {"field": "c", "type": "nominal", "sort": ["RS (aggregate)","RS (typical people)","RS (friends/family)","RS (self)","RS (high intensity)","RS (low intensity)"], "header": null},
  "row": {"field": "ylab", "type": "nominal", "header": {"title": null, "labelAngle": -90, "labelOrient": "left", "labelPadding": 11}}
 },
 "spacing": {"row": 0, "column": 21},
 "resolve": {"axis": {"y": "independent", "x": "independent"}},
 "spec": {
  "width": 132, "height": 114,
  "resolve": {"axis": {"y": "independent", "x": "independent"}},
  "layer": [
   {"mark": {"type": "area", "color": "#ff0000", "fillOpacity": 0.85, "stroke": "#e00000", "strokeWidth": 0.6, "interpolate": "monotone"},
    "encoding": {
     "x": {"field": "bx", "type": "quantitative", "title": null, "scale": {"domain": [-0.08, 1.08], "nice": false, "zero": false}, "axis": {"orient": "bottom", "values": [0,0.4,0.8], "labelExpr": "datum.value == 0 ? '0' : format(datum.value, '.1f')", "title": null}},
     "y": {"field": "lo", "type": "quantitative", "title": null, "scale": {"domain": [-0.05, 0.55], "nice": false, "zero": false}, "axis": {"orient": "left", "values": [0,0.1,0.2,0.3,0.4,0.5], "labelExpr": "datum.value == 0 ? '0' : format(datum.value, '.1f')", "title": null}},
     "y2": {"field": "hi"}
    }},
   {"mark": {"type": "rect", "fill": "#0000ff", "fillOpacity": 0.32, "stroke": "#0000ff", "strokeOpacity": 0.4, "strokeWidth": 1},
    "encoding": {"x": {"field": "hx0", "type": "quantitative", "title": null, "axis": null}, "x2": {"field": "hx1"}, "y": {"field": "h", "type": "quantitative", "title": null, "axis": null}, "y2": {"datum": 0}}},
   {"mark": {"type": "line", "color": "black", "strokeWidth": 1.2, "interpolate": "monotone"},
    "encoding": {"x": {"field": "bx", "type": "quantitative", "title": null, "axis": {"orient": "bottom", "values": [0.2,0.6,1], "labelExpr": "format(datum.value, '.1f')", "title": null}}, "y": {"field": "mid", "type": "quantitative", "title": null, "axis": {"orient": "left", "labels": false, "tickSize": 2, "title": null, "values": [0,0.01,0.02,0.03,0.04,0.05,0.06,0.07,0.08,0.09,0.1,0.11,0.12,0.13,0.14,0.15,0.16,0.17,0.18,0.19,0.2,0.21,0.22,0.23,0.24,0.25,0.26,0.27,0.28,0.29,0.3,0.31,0.32,0.33,0.34,0.35,0.36,0.37,0.38,0.39,0.4,0.41,0.42,0.43,0.44,0.45,0.46,0.47,0.48,0.49,0.5,0.51,0.52,0.53,0.54]}}}},
   {"mark": {"type": "text", "align": "right", "baseline": "middle", "fontStyle": "italic", "dx": -14, "dy": 10}, "encoding": {"x": {"datum": 0.31, "axis": null}, "y": {"datum": 0.55, "axis": null}, "text": {"condition": {"test": "datum.hx0 === 0", "field": "t1i"}, "value": ""}}},
   {"mark": {"type": "text", "align": "left", "baseline": "middle", "dx": -11, "dy": 10}, "encoding": {"x": {"datum": 0.31, "axis": null}, "y": {"datum": 0.55, "axis": null}, "text": {"condition": {"test": "datum.hx0 === 0", "field": "t1"}, "value": ""}}},
   {"mark": {"type": "text", "align": "center", "baseline": "middle", "dy": 24.5}, "encoding": {"x": {"datum": 0.31, "axis": null}, "y": {"datum": 0.55, "axis": null}, "text": {"condition": {"test": "datum.hx0 === 0", "field": "t2"}, "value": ""}}},
   {"mark": {"type": "text", "align": "right", "baseline": "middle", "fontStyle": "italic", "dx": -17, "dy": 39}, "encoding": {"x": {"datum": 0.31, "axis": null}, "y": {"datum": 0.55, "axis": null}, "text": {"condition": {"test": "datum.hx0 === 0", "field": "t3i"}, "value": ""}}},
   {"mark": {"type": "text", "align": "left", "baseline": "middle", "dx": -14, "dy": 39}, "encoding": {"x": {"datum": 0.31, "axis": null}, "y": {"datum": 0.55, "axis": null}, "text": {"condition": {"test": "datum.hx0 === 0", "field": "t3"}, "value": ""}}}
  ]
 }
},
{"width": 10, "height": 20, "view": {"stroke": null}, "data": {"values": [{"t": ""}]}, "mark": {"type": "text"}, "encoding": {"text": {"field": "t"}}},
{
 "data": {"values": [
  {"c":"RS (aggregate)","ylab":"𝑃 (intentions)","t1":"logit = 1.97","t2":"(1.23, 2.70)","t3i":"p","t3":"< 0.001","h":[0.156,0.046,0.044,0.037,0.041,0.049,0.052,0.067,0.046,0.037],"hx0":[0,0.1,0.2,0.3,0.4,0.5,0.6,0.7,0.8,0.9],"hx1":[0.1,0.2,0.3,0.4,0.5,0.6,0.7,0.8,0.9,1],"bx":[0,0.25,0.5,0.75,1],"lo":[0.018,0.038,0.065,0.095,0.125],"mid":[0.03,0.048,0.076,0.118,0.18],"hi":[0.045,0.058,0.088,0.145,0.235]},
  {"c":"RS (typical people)","ylab":"𝑃 (intentions)","t1":"logit = 1.38","t2":"(0.67, 2.08)","t3i":"p","t3":"< 0.001","h":[0.121,0.022,0.023,0.033,0.026,0.033,0.047,0.055,0.086,0.111],"hx0":[0,0.1,0.2,0.3,0.4,0.5,0.6,0.7,0.8,0.9],"hx1":[0.1,0.2,0.3,0.4,0.5,0.6,0.7,0.8,0.9,1],"bx":[0,0.25,0.5,0.75,1],"lo":[0.018,0.032,0.052,0.075,0.09],"mid":[0.033,0.046,0.064,0.088,0.12],"hi":[0.05,0.058,0.075,0.103,0.16]},
  {"c":"RS (friends/family)","ylab":"𝑃 (intentions)","t1":"logit = 1.65","t2":"(1.02, 2.27)","t3i":"p","t3":"< 0.001","h":[0.189,0.032,0.027,0.03,0.024,0.03,0.041,0.045,0.058,0.097],"hx0":[0,0.1,0.2,0.3,0.4,0.5,0.6,0.7,0.8,0.9],"hx1":[0.1,0.2,0.3,0.4,0.5,0.6,0.7,0.8,0.9,1],"bx":[0,0.25,0.5,0.75,1],"lo":[0.02,0.038,0.062,0.088,0.11],"mid":[0.033,0.048,0.071,0.103,0.148],"hi":[0.048,0.058,0.08,0.12,0.19]},
  {"c":"RS (self)","ylab":"𝑃 (intentions)","t1":"logit = 1.66","t2":"(1.04, 2.27)","t3i":"p","t3":"< 0.001","h":[0.267,0.063,0.051,0.041,0.037,0.03,0.027,0.018,0.018,0.036],"hx0":[0,0.1,0.2,0.3,0.4,0.5,0.6,0.7,0.8,0.9],"hx1":[0.1,0.2,0.3,0.4,0.5,0.6,0.7,0.8,0.9,1],"bx":[0,0.25,0.5,0.75,1],"lo":[0.032,0.055,0.083,0.115,0.14],"mid":[0.045,0.067,0.098,0.142,0.2],"hi":[0.06,0.08,0.115,0.175,0.265]},
  {"c":"RS (high intensity)","ylab":"𝑃 (intentions)","t1":"logit = 1.71","t2":"(1.01, 2.41)","t3i":"p","t3":"< 0.001","h":[0.158,0.044,0.03,0.047,0.028,0.051,0.067,0.046,0.027,0.055],"hx0":[0,0.1,0.2,0.3,0.4,0.5,0.6,0.7,0.8,0.9],"hx1":[0.1,0.2,0.3,0.4,0.5,0.6,0.7,0.8,0.9,1],"bx":[0,0.25,0.5,0.75,1],"lo":[0.02,0.04,0.066,0.093,0.115],"mid":[0.032,0.051,0.076,0.112,0.162],"hi":[0.046,0.062,0.088,0.135,0.21]},
  {"c":"RS (low intensity)","ylab":"𝑃 (intentions)","t1":"logit = 1.96","t2":"(1.25, 2.68)","t3i":"p","t3":"< 0.001","h":[0.159,0.049,0.044,0.037,0.037,0.044,0.052,0.051,0.046,0.041],"hx0":[0,0.1,0.2,0.3,0.4,0.5,0.6,0.7,0.8,0.9],"hx1":[0.1,0.2,0.3,0.4,0.5,0.6,0.7,0.8,0.9,1],"bx":[0,0.25,0.5,0.75,1],"lo":[0.018,0.038,0.066,0.097,0.125],"mid":[0.03,0.048,0.076,0.118,0.18],"hi":[0.045,0.058,0.088,0.143,0.24]}
 ]},
 "transform": [{"flatten": ["h","hx0","hx1","bx","lo","mid","hi"]}],
 "facet": {
  "column": {"field": "c", "type": "nominal", "sort": ["RS (aggregate)","RS (typical people)","RS (friends/family)","RS (self)","RS (high intensity)","RS (low intensity)"], "header": null},
  "row": {"field": "ylab", "type": "nominal", "header": {"title": null, "labelAngle": -90, "labelOrient": "left", "labelPadding": 11}}
 },
 "spacing": {"row": 0, "column": 21},
 "resolve": {"axis": {"y": "independent", "x": "independent"}},
 "spec": {
  "width": 132, "height": 114,
  "resolve": {"axis": {"y": "independent", "x": "independent"}},
  "layer": [
   {"mark": {"type": "area", "color": "#ff0000", "fillOpacity": 0.85, "stroke": "#e00000", "strokeWidth": 0.6, "interpolate": "monotone"},
    "encoding": {
     "x": {"field": "bx", "type": "quantitative", "title": null, "scale": {"domain": [-0.08, 1.08], "nice": false, "zero": false}, "axis": {"orient": "bottom", "values": [0,0.4,0.8], "labelExpr": "datum.value == 0 ? '0' : format(datum.value, '.1f')", "title": null}},
     "y": {"field": "lo", "type": "quantitative", "title": null, "scale": {"domain": [-0.03, 0.325], "nice": false, "zero": false}, "axis": {"orient": "left", "values": [0,0.1,0.2,0.3], "labelExpr": "datum.value == 0 ? '0' : format(datum.value, '.1f')", "title": null}},
     "y2": {"field": "hi"}
    }},
   {"mark": {"type": "rect", "fill": "#0000ff", "fillOpacity": 0.32, "stroke": "#0000ff", "strokeOpacity": 0.4, "strokeWidth": 1},
    "encoding": {"x": {"field": "hx0", "type": "quantitative", "title": null, "axis": null}, "x2": {"field": "hx1"}, "y": {"field": "h", "type": "quantitative", "title": null, "axis": null}, "y2": {"datum": 0}}},
   {"mark": {"type": "line", "color": "black", "strokeWidth": 1.2, "interpolate": "monotone"},
    "encoding": {"x": {"field": "bx", "type": "quantitative", "title": null, "axis": {"orient": "bottom", "values": [0.2,0.6,1], "labelExpr": "format(datum.value, '.1f')", "title": null}}, "y": {"field": "mid", "type": "quantitative", "title": null, "axis": {"orient": "left", "labels": false, "tickSize": 2, "title": null, "values": [0,0.01,0.02,0.03,0.04,0.05,0.06,0.07,0.08,0.09,0.1,0.11,0.12,0.13,0.14,0.15,0.16,0.17,0.18,0.19,0.2,0.21,0.22,0.23,0.24,0.25,0.26,0.27,0.28,0.29,0.3,0.31,0.32]}}}},
   {"mark": {"type": "text", "align": "center", "baseline": "middle", "dy": 10}, "encoding": {"x": {"datum": 0.31, "axis": null}, "y": {"datum": 0.325, "axis": null}, "text": {"condition": {"test": "datum.hx0 === 0", "field": "t1"}, "value": ""}}},
   {"mark": {"type": "text", "align": "center", "baseline": "middle", "dy": 24.5}, "encoding": {"x": {"datum": 0.31, "axis": null}, "y": {"datum": 0.325, "axis": null}, "text": {"condition": {"test": "datum.hx0 === 0", "field": "t2"}, "value": ""}}},
   {"mark": {"type": "text", "align": "right", "baseline": "middle", "fontStyle": "italic", "dx": -17, "dy": 39}, "encoding": {"x": {"datum": 0.31, "axis": null}, "y": {"datum": 0.325, "axis": null}, "text": {"condition": {"test": "datum.hx0 === 0", "field": "t3i"}, "value": ""}}},
   {"mark": {"type": "text", "align": "left", "baseline": "middle", "dx": -14, "dy": 39}, "encoding": {"x": {"datum": 0.31, "axis": null}, "y": {"datum": 0.325, "axis": null}, "text": {"condition": {"test": "datum.hx0 === 0", "field": "t3"}, "value": ""}}}
  ]
 }
},
{"width": 10, "height": 20, "view": {"stroke": null}, "data": {"values": [{"t": ""}]}, "mark": {"type": "text"}, "encoding": {"text": {"field": "t"}}},
{
 "data": {"values": [
  {"c":"RS (aggregate)","ylab":"𝑃 (participation)","t1":"logit = 2.81","t2":"(1.32, 4.31)","t3i":"p","t3":"< 0.001","h":[0.078,0.025,0.023,0.014,0.014,0.017,0.023,0.032,0.021,0.018],"hx0":[0,0.1,0.2,0.3,0.4,0.5,0.6,0.7,0.8,0.9],"hx1":[0.1,0.2,0.3,0.4,0.5,0.6,0.7,0.8,0.9,1],"bx":[0,0.25,0.5,0.75,1],"lo":[0.002,0.006,0.013,0.024,0.027],"mid":[0.0043,0.0086,0.0173,0.034,0.067],"hi":[0.008,0.012,0.023,0.05,0.11]},
  {"c":"RS (typical people)","ylab":"𝑃 (participation)","t1":"logit = 2.44","t2":"(0.86, 4.02)","t3i":"p","t3":"= 0.003","h":[0.06,0.018,0.011,0.016,0.009,0.014,0.022,0.028,0.044,0.054],"hx0":[0,0.1,0.2,0.3,0.4,0.5,0.6,0.7,0.8,0.9],"hx1":[0.1,0.2,0.3,0.4,0.5,0.6,0.7,0.8,0.9,1],"bx":[0,0.25,0.5,0.75,1],"lo":[0.0015,0.004,0.009,0.018,0.021],"mid":[0.0039,0.0072,0.013,0.024,0.043],"hi":[0.009,0.012,0.019,0.032,0.067]},
  {"c":"RS (friends/family)","ylab":"𝑃 (participation)","t1":"logit = 2.66","t2":"(1.26, 4.05)","t3i":"p","t3":"< 0.001","h":[0.094,0.021,0.011,0.012,0.009,0.013,0.018,0.021,0.027,0.048],"hx0":[0,0.1,0.2,0.3,0.4,0.5,0.6,0.7,0.8,0.9],"hx1":[0.1,0.2,0.3,0.4,0.5,0.6,0.7,0.8,0.9,1],"bx":[0,0.25,0.5,0.75,1],"lo":[0.0015,0.0045,0.01,0.021,0.028],"mid":[0.0039,0.0076,0.0146,0.028,0.053],"hi":[0.008,0.012,0.02,0.037,0.08]},
  {"c":"RS (self)","ylab":"𝑃 (participation)","t1":"logit = 1.81","t2":"(0.69, 2.93)","t3i":"p","t3":"= 0.002","h":[0.134,0.029,0.024,0.017,0.017,0.012,0.007,0.007,0.008,0.017],"hx0":[0,0.1,0.2,0.3,0.4,0.5,0.6,0.7,0.8,0.9],"hx1":[0.1,0.2,0.3,0.4,0.5,0.6,0.7,0.8,0.9,1],"bx":[0,0.25,0.5,0.75,1],"lo":[0.006,0.012,0.019,0.025,0.026],"mid":[0.0105,0.0165,0.0256,0.0396,0.061],"hi":[0.016,0.021,0.034,0.06,0.104]},
  {"c":"RS (high intensity)","ylab":"𝑃 (participation)","t1":"logit = 2.48","t2":"(1.08, 3.89)","t3i":"p","t3":"= 0.001","h":[0.079,0.022,0.01,0.023,0.015,0.027,0.035,0.023,0.014,0.028],"hx0":[0,0.1,0.2,0.3,0.4,0.5,0.6,0.7,0.8,0.9],"hx1":[0.1,0.2,0.3,0.4,0.5,0.6,0.7,0.8,0.9,1],"bx":[0,0.25,0.5,0.75,1],"lo":[0.0025,0.006,0.013,0.022,0.025],"mid":[0.0053,0.0099,0.018,0.0332,0.06],"hi":[0.01,0.014,0.025,0.047,0.103]},
  {"c":"RS (low intensity)","ylab":"𝑃 (participation)","t1":"logit = 2.78","t2":"(1.32, 4.24)","t3i":"p","t3":"< 0.001","h":[0.081,0.024,0.021,0.017,0.015,0.021,0.025,0.027,0.025,0.022],"hx0":[0,0.1,0.2,0.3,0.4,0.5,0.6,0.7,0.8,0.9],"hx1":[0.1,0.2,0.3,0.4,0.5,0.6,0.7,0.8,0.9,1],"bx":[0,0.25,0.5,0.75,1],"lo":[0.002,0.006,0.013,0.024,0.027],"mid":[0.0044,0.0087,0.0173,0.034,0.066],"hi":[0.008,0.012,0.023,0.048,0.107]}
 ]},
 "transform": [{"flatten": ["h","hx0","hx1","bx","lo","mid","hi"]}],
 "facet": {
  "column": {"field": "c", "type": "nominal", "sort": ["RS (aggregate)","RS (typical people)","RS (friends/family)","RS (self)","RS (high intensity)","RS (low intensity)"], "header": {"title": null, "labelOrient": "bottom", "labelPadding": 3}},
  "row": {"field": "ylab", "type": "nominal", "header": {"title": null, "labelAngle": -90, "labelOrient": "left", "labelPadding": 11}}
 },
 "spacing": {"row": 0, "column": 21},
 "resolve": {"axis": {"y": "independent", "x": "independent"}},
 "spec": {
  "width": 132, "height": 114,
  "resolve": {"axis": {"y": "independent", "x": "independent"}},
  "layer": [
   {"mark": {"type": "area", "color": "#ff0000", "fillOpacity": 0.85, "stroke": "#e00000", "strokeWidth": 0.6, "interpolate": "monotone"},
    "encoding": {
     "x": {"field": "bx", "type": "quantitative", "title": null, "scale": {"domain": [-0.08, 1.08], "nice": false, "zero": false}, "axis": {"orient": "bottom", "values": [0,0.4,0.8], "labelExpr": "datum.value == 0 ? '0' : format(datum.value, '.1f')", "title": null}},
     "y": {"field": "lo", "type": "quantitative", "title": null, "scale": {"domain": [-0.018, 0.165], "nice": false, "zero": false}, "axis": {"orient": "left", "values": [0,0.1], "labelExpr": "datum.value == 0 ? '0' : format(datum.value, '.1f')", "title": null}},
     "y2": {"field": "hi"}
    }},
   {"mark": {"type": "rect", "fill": "#0000ff", "fillOpacity": 0.32, "stroke": "#0000ff", "strokeOpacity": 0.4, "strokeWidth": 1},
    "encoding": {"x": {"field": "hx0", "type": "quantitative", "title": null, "axis": null}, "x2": {"field": "hx1"}, "y": {"field": "h", "type": "quantitative", "title": null, "axis": null}, "y2": {"datum": 0}}},
   {"mark": {"type": "line", "color": "black", "strokeWidth": 1.2, "interpolate": "monotone"},
    "encoding": {"x": {"field": "bx", "type": "quantitative", "title": null, "axis": {"orient": "bottom", "values": [0.2,0.6,1], "labelExpr": "format(datum.value, '.1f')", "title": null}}, "y": {"field": "mid", "type": "quantitative", "title": null, "axis": {"orient": "left", "labels": false, "tickSize": 2, "title": null, "values": [0,0.01,0.02,0.03,0.04,0.05,0.06,0.07,0.08,0.09,0.1,0.11,0.12,0.13,0.14,0.15,0.16]}}}},
   {"mark": {"type": "text", "align": "center", "baseline": "middle", "dy": 10}, "encoding": {"x": {"datum": 0.31, "axis": null}, "y": {"datum": 0.165, "axis": null}, "text": {"condition": {"test": "datum.hx0 === 0", "field": "t1"}, "value": ""}}},
   {"mark": {"type": "text", "align": "center", "baseline": "middle", "dy": 24.5}, "encoding": {"x": {"datum": 0.31, "axis": null}, "y": {"datum": 0.165, "axis": null}, "text": {"condition": {"test": "datum.hx0 === 0", "field": "t2"}, "value": ""}}},
   {"mark": {"type": "text", "align": "right", "baseline": "middle", "fontStyle": "italic", "dx": -17, "dy": 39}, "encoding": {"x": {"datum": 0.31, "axis": null}, "y": {"datum": 0.165, "axis": null}, "text": {"condition": {"test": "datum.hx0 === 0", "field": "t3i"}, "value": ""}}},
   {"mark": {"type": "text", "align": "left", "baseline": "middle", "dx": -14, "dy": 39}, "encoding": {"x": {"datum": 0.31, "axis": null}, "y": {"datum": 0.165, "axis": null}, "text": {"condition": {"test": "datum.hx0 === 0", "field": "t3"}, "value": ""}}}
  ]
 }
}
]
}
